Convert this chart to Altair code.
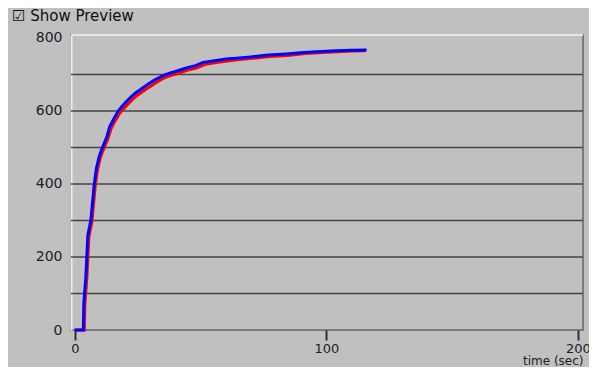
import altair as alt
import pandas as pd

# Blue series (flat start, then rising curve)
blue_t = [0, 3.4, 3.6, 4.4, 5.2, 6.4, 6.9, 7.7, 8.6, 9.7, 10.6, 11.7, 12.8, 13.9, 15.5, 17.2, 18.5,
          19.9, 22.0, 23.9, 26.0, 27.8, 30.0, 31.8, 34.0, 35.8, 38.0, 40.0, 44.0, 48.0, 51.0,
          55.0, 60.0, 64.0, 70.0, 77.0, 84.0, 91.0, 98.0, 104.0, 110.0, 116.0]
blue_v = [0, 0, 73, 146, 260, 301, 338, 397, 443, 475, 493, 511, 530, 557, 578, 599, 610,
          621, 636, 648, 658, 667, 677, 685, 693, 699, 704, 708, 717, 724, 733,
          737, 742, 744, 748, 753, 756, 760, 763, 765, 766, 767]

# Red series (slightly lagging underneath)
red_t = [0, 3.8, 4.0, 4.8, 5.6, 6.8, 7.3, 8.1, 9.0, 10.1, 11.0, 12.1, 13.2, 14.4, 16.0, 17.7, 19.0,
         20.5, 22.6, 24.5, 26.6, 28.4, 30.6, 32.4, 34.6, 36.4, 38.6, 40.6, 44.6, 48.6, 51.6,
         55.6, 60.6, 64.6, 70.6, 77.6, 84.6, 91.6, 98.6, 104.6, 110.6, 115.5]
red_v = [0, 0, 70, 142, 255, 296, 333, 392, 438, 470, 488, 506, 524, 551, 572, 592, 603,
         614, 629, 641, 651, 660, 670, 678, 687, 693, 698, 702, 711, 718, 727,
         732, 737, 740, 744, 749, 752, 757, 760, 762, 764, 765]

y_ticks = [0, 100, 200, 300, 400, 500, 600, 700, 800]
grid_values = [100, 200, 300, 400, 500, 600, 700]
x_ticks = [0, 100, 200]

blue_df = pd.DataFrame({"t": blue_t, "v": blue_v})
red_df = pd.DataFrame({"t": red_t, "v": red_v})
grid_df = pd.DataFrame({"g": grid_values})

FONT = "DejaVu Sans"

x_scale = alt.Scale(domain=[-1.5, 202], nice=False, zero=False)
y_scale = alt.Scale(domain=[0, 808], nice=False)

x_axis = alt.Axis(values=x_ticks, title="time (sec)", grid=False, domain=False,
                  tickColor="#303030", tickSize=10, tickWidth=2, labelPadding=2,
                  labelFont=FONT, labelFontSize=13, labelColor="#202020",
                  titleFont=FONT, titleFontSize=12, titleFontWeight="normal",
                  titleColor="#202020", titleAnchor="end", titleAlign="right",
                  titleBaseline="bottom", titleY=37)
y_axis = alt.Axis(values=y_ticks, title=None, grid=False, ticks=False,
                  domainColor="#f0f0f0", domainWidth=2, labelPadding=9,
                  labelFont=FONT, labelFontSize=14, labelColor="#202020")

grid = alt.Chart(grid_df).mark_rule(color="#454545", strokeWidth=1.6).encode(
    y=alt.Y("g:Q", scale=y_scale, axis=y_axis)
)
top_edge = alt.Chart(pd.DataFrame({"g": [808]})).mark_rule(color="#e6e6e6", strokeWidth=2).encode(
    y=alt.Y("g:Q", scale=y_scale)
)
red = alt.Chart(red_df).mark_line(color="#ff0000", strokeWidth=3).encode(
    x=alt.X("t:Q", scale=x_scale, axis=x_axis),
    y=alt.Y("v:Q", scale=y_scale),
)
blue = alt.Chart(blue_df).mark_line(color="#0000ff", strokeWidth=3).encode(
    x=alt.X("t:Q", scale=x_scale),
    y=alt.Y("v:Q", scale=y_scale),
)

chart = alt.layer(grid, top_edge, red, blue).properties(
    width=512,
    height=295,
    autosize=alt.AutoSizeParams(type="none"),
    padding={"left": 63, "top": 27, "right": 6, "bottom": 37},
    background="#c0c0c0",
    title=alt.TitleParams(text="☑  Show Preview", anchor="start", frame="group",
                          dx=-59, dy=8, offset=0, font=FONT, fontSize=15,
                          fontWeight="normal", color="#101010", baseline="bottom"),
).configure_view(
    fill="#c0c0c0", stroke="#7a7a7a", strokeWidth=2
)

chart.save("out.html", embed_options={"renderer": "svg", "actions": False})
